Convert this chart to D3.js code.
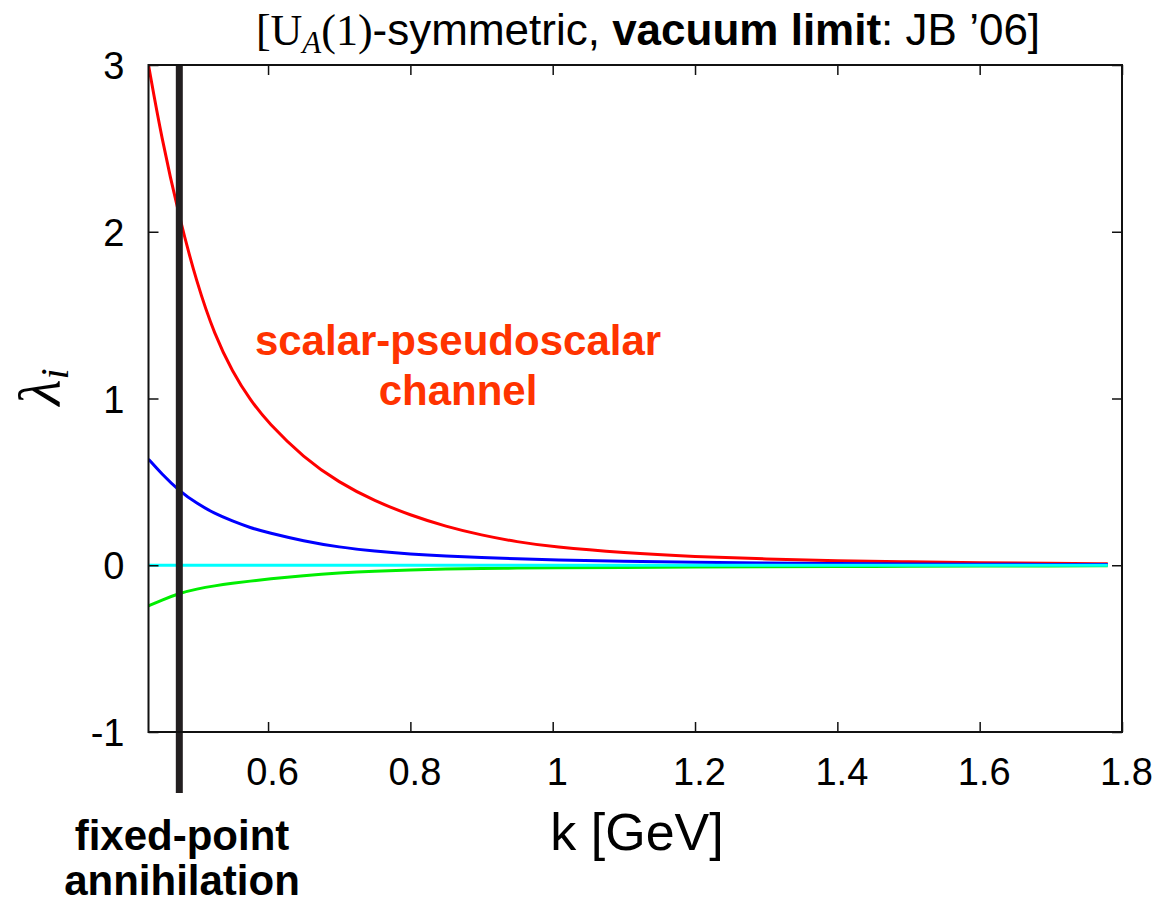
<!DOCTYPE html>
<html>
<head>
<meta charset="utf-8">
<script src="https://cdn.jsdelivr.net/npm/d3@7"></script>
<style>
  body { margin: 0; background: #fff; }
  svg { display: block; }
</style>
</head>
<body>
<div class="canvas"></div>
<script>
// values
const kValues = [0.432, 0.45, 0.475, 0.5, 0.525, 0.55, 0.575, 0.6, 0.65, 0.7, 0.75, 0.8,
                 0.85, 0.9, 0.95, 1.0, 1.1, 1.2, 1.3, 1.4, 1.5, 1.6, 1.7, 1.78];
const redValues = [3.0, 2.57, 2.09, 1.69, 1.38, 1.16, 0.99, 0.855, 0.645, 0.495, 0.385, 0.30,
                   0.232, 0.18, 0.14, 0.11, 0.074, 0.052, 0.037, 0.027, 0.02, 0.015, 0.011, 0.009];
const blueValues = [0.636, 0.55, 0.446, 0.37, 0.31, 0.265, 0.225, 0.195, 0.145, 0.108, 0.084, 0.067,
                    0.055, 0.046, 0.038, 0.032, 0.023, 0.017, 0.013, 0.01, 0.008, 0.006, 0.005, 0.004];
const greenValues = [-0.244, -0.21, -0.168, -0.142, -0.123, -0.108, -0.095, -0.083, -0.062, -0.046, -0.035, -0.028,
                     -0.023, -0.019, -0.017, -0.015, -0.013, -0.011, -0.009, -0.008, -0.006, -0.005, -0.004, -0.003];
const cyanValues = [0, 0, 0, 0, 0, 0, 0, 0, 0, 0, 0, 0,
                    0, 0, 0, 0, 0, 0, 0, 0, 0, 0, 0, 0];
const seriesNames = ['red', 'blue', 'green', 'cyan'];
const seriesColours = ['#ff0000', '#0000ff', '#00ee00', '#00ffff'];
const xTicks = [0.6, 0.8, 1.0, 1.2, 1.4, 1.6, 1.8];
const xTickLabels = ['0.6', '0.8', '1', '1.2', '1.4', '1.6', '1.8'];
const yTicks = [-1, 0, 1, 2, 3];
const yTickLabels = ['-1', '0', '1', '2', '3'];
const fixedPoint = 0.4753;

const sans = '"Liberation Sans", Arial, Helvetica, sans-serif';
const serif = '"Liberation Serif", "Times New Roman", serif';

const dim = { width: 1159, height: 905 };
const plot = { left: 148.5, right: 1122, top: 65, bottom: 732 };

const svg = d3.select('.canvas')
    .append('svg')
    .attr('width', dim.width)
    .attr('height', dim.height);

const x = d3.scaleLinear().domain([0.432, 1.8]).range([plot.left, plot.right]);
const y = d3.scaleLinear().domain([-1, 3]).range([plot.bottom, plot.top]);

svg.append('clipPath').attr('id', 'clip')
  .append('rect')
    .attr('x', plot.left).attr('y', plot.top)
    .attr('width', plot.right - plot.left)
    .attr('height', plot.bottom - plot.top);

// curves
const series = [redValues, blueValues, greenValues, cyanValues].map((vals, i) => ({
    name: seriesNames[i],
    colour: seriesColours[i],
    points: kValues.map((k, j) => ({ k: k, v: vals[j] }))
}));

const line = d3.line()
    .x(d => x(d.k))
    .y(d => y(d.v))
    .curve(d3.curveBasis);

svg.append('g')
    .attr('clip-path', 'url(#clip)')
  .selectAll('path')
  .data(series)
  .enter()
  .append('path')
    .attr('d', d => line(d.points))
    .attr('fill', 'none')
    .attr('stroke', d => d.colour)
    .attr('stroke-width', 3);

// fixed-point annihilation line
svg.append('line')
    .attr('x1', x(fixedPoint)).attr('x2', x(fixedPoint))
    .attr('y1', plot.top).attr('y2', 793)
    .attr('stroke', '#231f20')
    .attr('stroke-width', 7);

// axes, ticks pointing inward on all four sides
const axisStyle = g => {
    g.select('.domain').remove();
    g.selectAll('.tick line').attr('stroke', '#111').attr('stroke-width', 1.5);
};

svg.append('g')
    .attr('transform', `translate(0,${plot.bottom})`)
    .call(d3.axisBottom(x).tickValues(xTicks).tickSize(-10).tickFormat((d, i) => xTickLabels[i]))
    .call(axisStyle)
    .call(g => g.selectAll('text')
        .attr('y', 53).attr('dy', 0).attr('x', 4)
        .attr('font-family', sans).attr('font-size', 38).attr('fill', '#000'));

svg.append('g')
    .attr('transform', `translate(0,${plot.top})`)
    .call(d3.axisTop(x).tickValues(xTicks).tickSize(-10).tickFormat(''))
    .call(axisStyle);

svg.append('g')
    .attr('transform', `translate(${plot.left},0)`)
    .call(d3.axisLeft(y).tickValues(yTicks).tickSize(-10).tickFormat((d, i) => yTickLabels[i]))
    .call(axisStyle)
    .call(g => g.selectAll('text')
        .attr('x', -24).attr('dy', '0.36em')
        .attr('font-family', sans).attr('font-size', 38).attr('fill', '#000'));

svg.append('g')
    .attr('transform', `translate(${plot.right},0)`)
    .call(d3.axisRight(y).tickValues(yTicks).tickSize(-10).tickFormat(''))
    .call(axisStyle);

// frame
svg.append('rect')
    .attr('x', plot.left).attr('y', plot.top)
    .attr('width', plot.right - plot.left)
    .attr('height', plot.bottom - plot.top)
    .attr('fill', 'none')
    .attr('stroke', '#111')
    .attr('stroke-width', 2);

// title
const title = svg.append('text')
    .attr('x', 648).attr('y', 45)
    .attr('text-anchor', 'middle')
    .attr('font-size', 44)
    .attr('fill', '#000');
title.append('tspan').attr('font-family', serif).text('[U');
title.append('tspan').attr('font-family', serif).attr('font-style', 'italic')
    .attr('font-size', 31).attr('dy', 8).text('A');
title.append('tspan').attr('font-family', serif).attr('dy', -8).text('(1)');
title.append('tspan').attr('font-family', sans).text('-symmetric, ');
title.append('tspan').attr('font-family', sans).attr('font-weight', 'bold').text('vacuum limit');
title.append('tspan').attr('font-family', sans).text(': JB \u201906]');

// axis labels
svg.append('text')
    .attr('x', 637).attr('y', 850)
    .attr('text-anchor', 'middle')
    .attr('font-family', sans).attr('font-size', 52)
    .text('k [GeV]');

const ylab = svg.append('text')
    .attr('transform', 'translate(60,387) rotate(-90)')
    .attr('text-anchor', 'middle')
    .attr('font-family', serif).attr('font-style', 'italic');
ylab.append('tspan').attr('font-size', 60).text('\u03bb');
ylab.append('tspan').attr('font-size', 40).attr('dy', 8).text('i');

// annotations
const annot = svg.append('text')
    .attr('text-anchor', 'middle')
    .attr('font-family', sans).attr('font-weight', 'bold')
    .attr('font-size', 42).attr('fill', '#ff3300');
annot.append('tspan').attr('x', 458).attr('y', 355).text('scalar-pseudoscalar');
annot.append('tspan').attr('x', 458).attr('y', 405).text('channel');

const fp = svg.append('text')
    .attr('text-anchor', 'middle')
    .attr('font-family', sans).attr('font-weight', 'bold')
    .attr('font-size', 42).attr('fill', '#000');
fp.append('tspan').attr('x', 182).attr('y', 850).text('fixed-point');
fp.append('tspan').attr('x', 182).attr('y', 895).text('annihilation');
</script>
</body>
</html>
